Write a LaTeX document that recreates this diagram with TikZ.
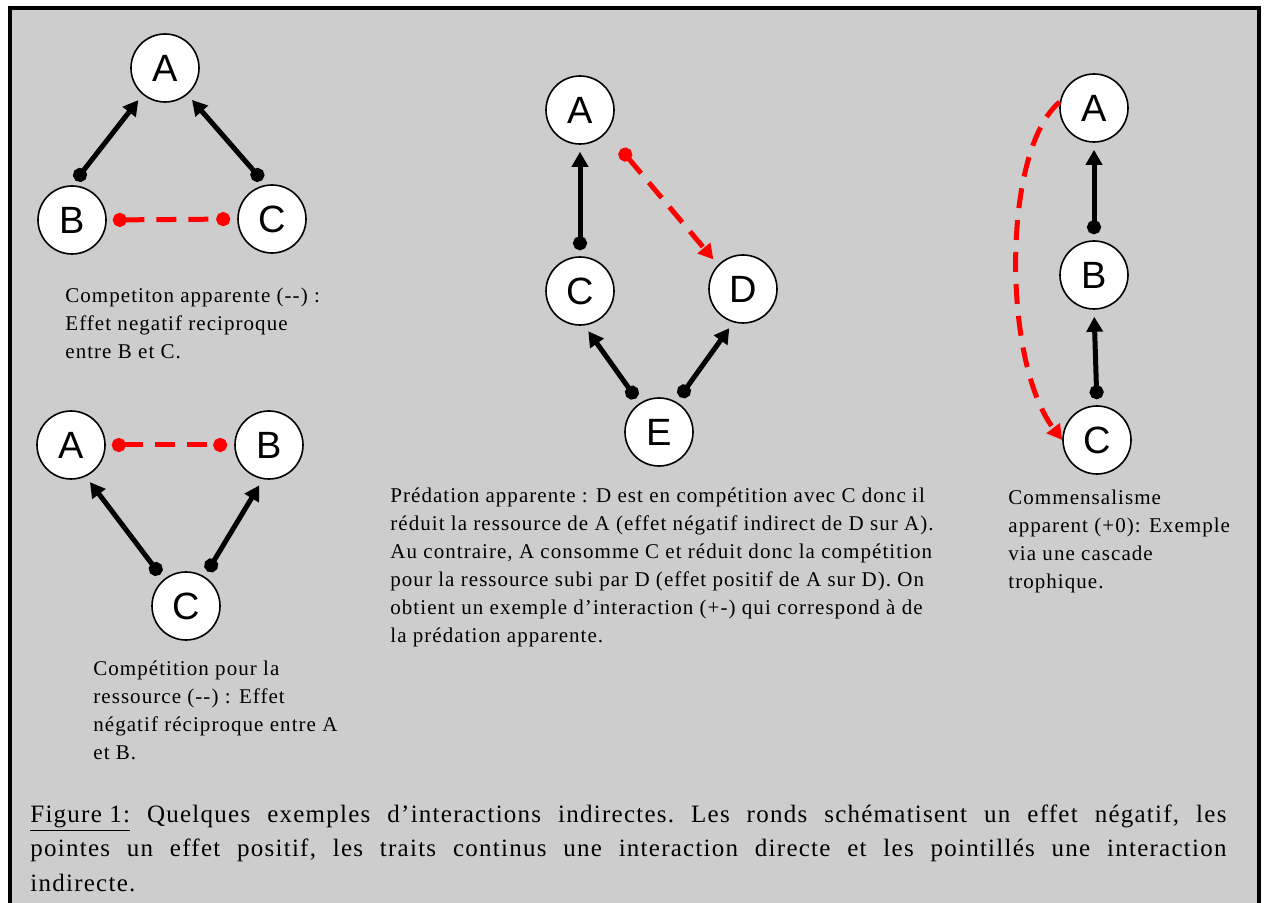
\documentclass[tikz,border=0pt]{standalone}
\usepackage{fontspec}
\setmainfont[LetterSpace=5]{Liberation Serif}
\newfontfamily\lettrefont{Liberation Sans}
\usetikzlibrary{arrows.meta}
\definecolor{fondgris}{RGB}{205,205,205}

\begin{document}
\begin{tikzpicture}[x=0.5pt, y=-0.5pt,
		espece/.style={circle, draw=black, line width=0.8pt, fill=white, minimum size=34pt, inner sep=0pt, font=\lettrefont\fontsize{19}{19}\selectfont},
		direct/.style={line width=2.5pt, shorten <=3pt, shorten >=3.5pt},
		indirect/.style={draw=red, line width=2.5pt, dash pattern=on 10pt off 6pt, shorten <=3pt, shorten >=3.5pt},
		negpos/.style={arrows={Circle[length=7pt]-Triangle[length=7.5pt,width=8pt]}},
		negneg/.style={arrows={Circle[length=7pt]-Circle[length=7pt]}},
		legende/.style={anchor=north west, inner sep=0pt, align=left, font=\fontsize{10.5}{14}\selectfont}]
		%%%%% START %%%%%
		
		\useasboundingbox (0,0) rectangle (1264,903);
		\fill[white] (0,0) rectangle (1264,903);
		\draw[line width=2pt, fill=fondgris] (10,8) rectangle (1259,940);
		
		\node[espece] (p1a) at (165,68) {A};
		\node[espece] (p1b) at (72,220) {B};
		\node[espece] (p1c) at (272,219) {C};
		\draw[direct, negpos] (p1b.north) -- (p1a.230);
		\draw[direct, negpos] (p1c.100) -- (p1a.-50);
		\draw[indirect, negneg] (p1b.east) -- (p1c.west);
		\node[legende] (txtun) at (65,288) {Competiton apparente (-{}-) :\\Effet negatif reciproque\\entre B et C.};
		
		\node[espece] (p2a) at (71,445) {A};
		\node[espece] (p2b) at (269,445) {B};
		\node[espece] (p2c) at (186,606) {C};
		\draw[indirect, negneg] (p2a.east) -- (p2b.west);
		\draw[direct, negpos] (p2c.130) -- (p2a.-65);
		\draw[direct, negpos] (p2c.58) -- (p2b.-100);
		\node[legende] (txtdeux) at (93,660) {Compétition pour la\\ressource (-{}-) : Effet\\négatif réciproque entre A\\et B.};
		
		\node[espece] (p3a) at (580,110) {A};
		\node[espece] (p3c) at (580,291) {C};
		\node[espece] (p3d) at (743,289) {D};
		\node[espece] (p3e) at (659,432) {E};
		\draw[direct, negpos] (p3c.north) -- (p3a.south);
		\draw[direct, negpos] (p3e.124) -- (p3c.-83);
		\draw[direct, negpos] (p3e.60) -- (p3d.-106);
		\draw[indirect, negpos, shorten <=11pt] (p3a.-40) -- (p3d.136);
		\node[legende] (txttrois) at (390,487) {Prédation apparente : D est en compétition avec C donc il\\réduit la ressource de A (effet négatif indirect de D sur A).\\Au contraire, A consomme C et réduit donc la compétition\\pour la ressource subi par D (effet positif de A sur D). On\\obtient un exemple d’interaction (+-) qui correspond à de\\la prédation apparente.};
		
		\node[espece] (p4a) at (1094,108) {A};
		\node[espece] (p4b) at (1094,275) {B};
		\node[espece] (p4c) at (1097,440) {C};
		\draw[direct, negpos] (p4b.north) -- (p4a.south);
		\draw[direct, negpos] (p4c.north) -- (p4b.south);
		\draw[indirect, shorten <=0pt, shorten >=0pt, -{Triangle[length=7.5pt,width=8pt]}] (p4a.170) .. controls (1002,150) and (1002,361) .. (p4c.west);
		\node[legende] (txtquatre) at (1008,490) {Commensalisme\\apparent (+0): Exemple\\via une cascade\\trophique.};
		
		\node[anchor=north west, inner sep=0pt, text width=598pt, align=justify, font=\fontsize{12.5}{17.3}\selectfont\frenchspacing] (legfig) at (30,804) {\underline{Figure 1:} Quelques exemples d’interactions indirectes. Les ronds schématisent un effet négatif, les\linebreak pointes un effet positif, les traits continus une interaction directe et les pointillés une interaction\linebreak indirecte.};
		
		%%%%% END %%%%%
\end{tikzpicture}
\end{document}
